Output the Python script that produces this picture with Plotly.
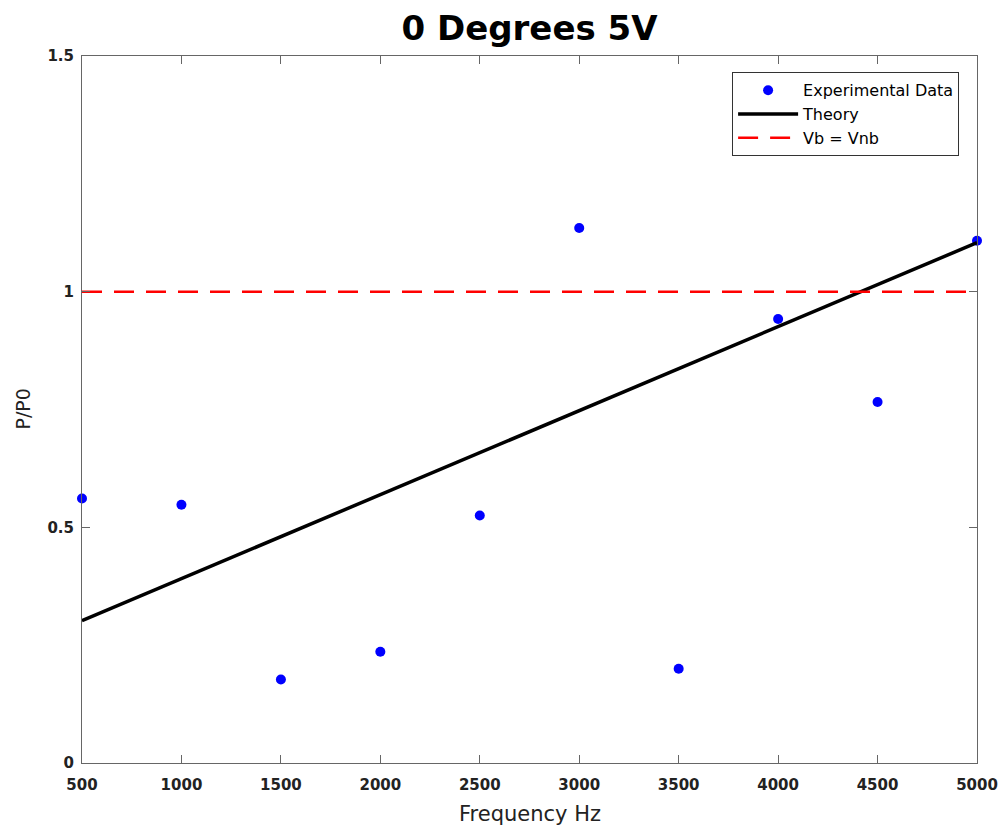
import plotly.graph_objects as go

freq = [500, 1000, 1500, 2000, 2500, 3000, 3500, 4000, 4500, 5000]
p_ratio = [0.561, 0.548, 0.177, 0.236, 0.525, 1.135, 0.200, 0.942, 0.766, 1.108]

theory_x = [500, 5000]
theory_y = [0.302, 1.104]

ref_x = [500, 5000]
ref_y = [1.0, 1.0]

x_ticks = [500, 1000, 1500, 2000, 2500, 3000, 3500, 4000, 4500, 5000]
y_ticks = [0, 0.5, 1, 1.5]
y_tick_text = ["0", "0.5", "1", "1.5"]

fig = go.Figure()
fig.add_trace(go.Scatter(x=freq, y=p_ratio, mode="markers", name="Experimental Data",
                         marker=dict(color="#0000ff", size=10), cliponaxis=False))
fig.add_trace(go.Scatter(x=theory_x, y=theory_y, mode="lines", name="Theory",
                         line=dict(color="black", width=3.5)))
fig.add_trace(go.Scatter(x=ref_x, y=ref_y, mode="lines", name="Vb = Vnb",
                         line=dict(color="#ff0000", width=2.5, dash="20px,12px")))

axis_common = dict(showline=True, linecolor="#666", linewidth=1, mirror="ticks",
                   ticks="inside", ticklen=8, tickcolor="#666", showgrid=False,
                   zeroline=False, automargin=False,
                   tickfont=dict(family="DejaVu Sans", size=15, color="#222", weight="bold"))

fig.update_layout(
    template="none",
    width=1002, height=830,
    margin=dict(l=82, r=25, t=56, b=67, autoexpand=False),
    paper_bgcolor="white", plot_bgcolor="white",
    title=dict(text="<b>0 Degrees 5V</b>", x=0.5, xref="paper", xanchor="center",
               y=1 - 28 / 830, yref="container", yanchor="middle",
               font=dict(family="DejaVu Sans", size=34, color="black")),
    xaxis=dict(range=[500, 5000], tickvals=x_ticks, ticklabelstandoff=8, **axis_common),
    yaxis=dict(range=[0, 1.5], tickvals=y_ticks, ticktext=y_tick_text, ticklabelstandoff=4, **axis_common),
    showlegend=True,
    legend=dict(x=0.980, y=0.977, xanchor="right", yanchor="top",
                bgcolor="white", bordercolor="#333", borderwidth=1,
                font=dict(family="DejaVu Sans", size=16, color="black"),
                itemwidth=60, tracegroupgap=0, traceorder="normal"),
    annotations=[
        dict(text="Frequency Hz", x=0.5, xref="paper", y=-(814 - 763) / 707, yref="paper",
             xanchor="center", yanchor="middle", showarrow=False,
             font=dict(family="DejaVu Sans", size=21, color="#222")),
        dict(text="P/P0", x=-(82 - 22) / 895, xref="paper", y=0.5, yref="paper",
             xanchor="center", yanchor="middle", showarrow=False, textangle=-90,
             font=dict(family="DejaVu Sans", size=19, color="#222")),
    ],
)

fig.write_html("out.html")
